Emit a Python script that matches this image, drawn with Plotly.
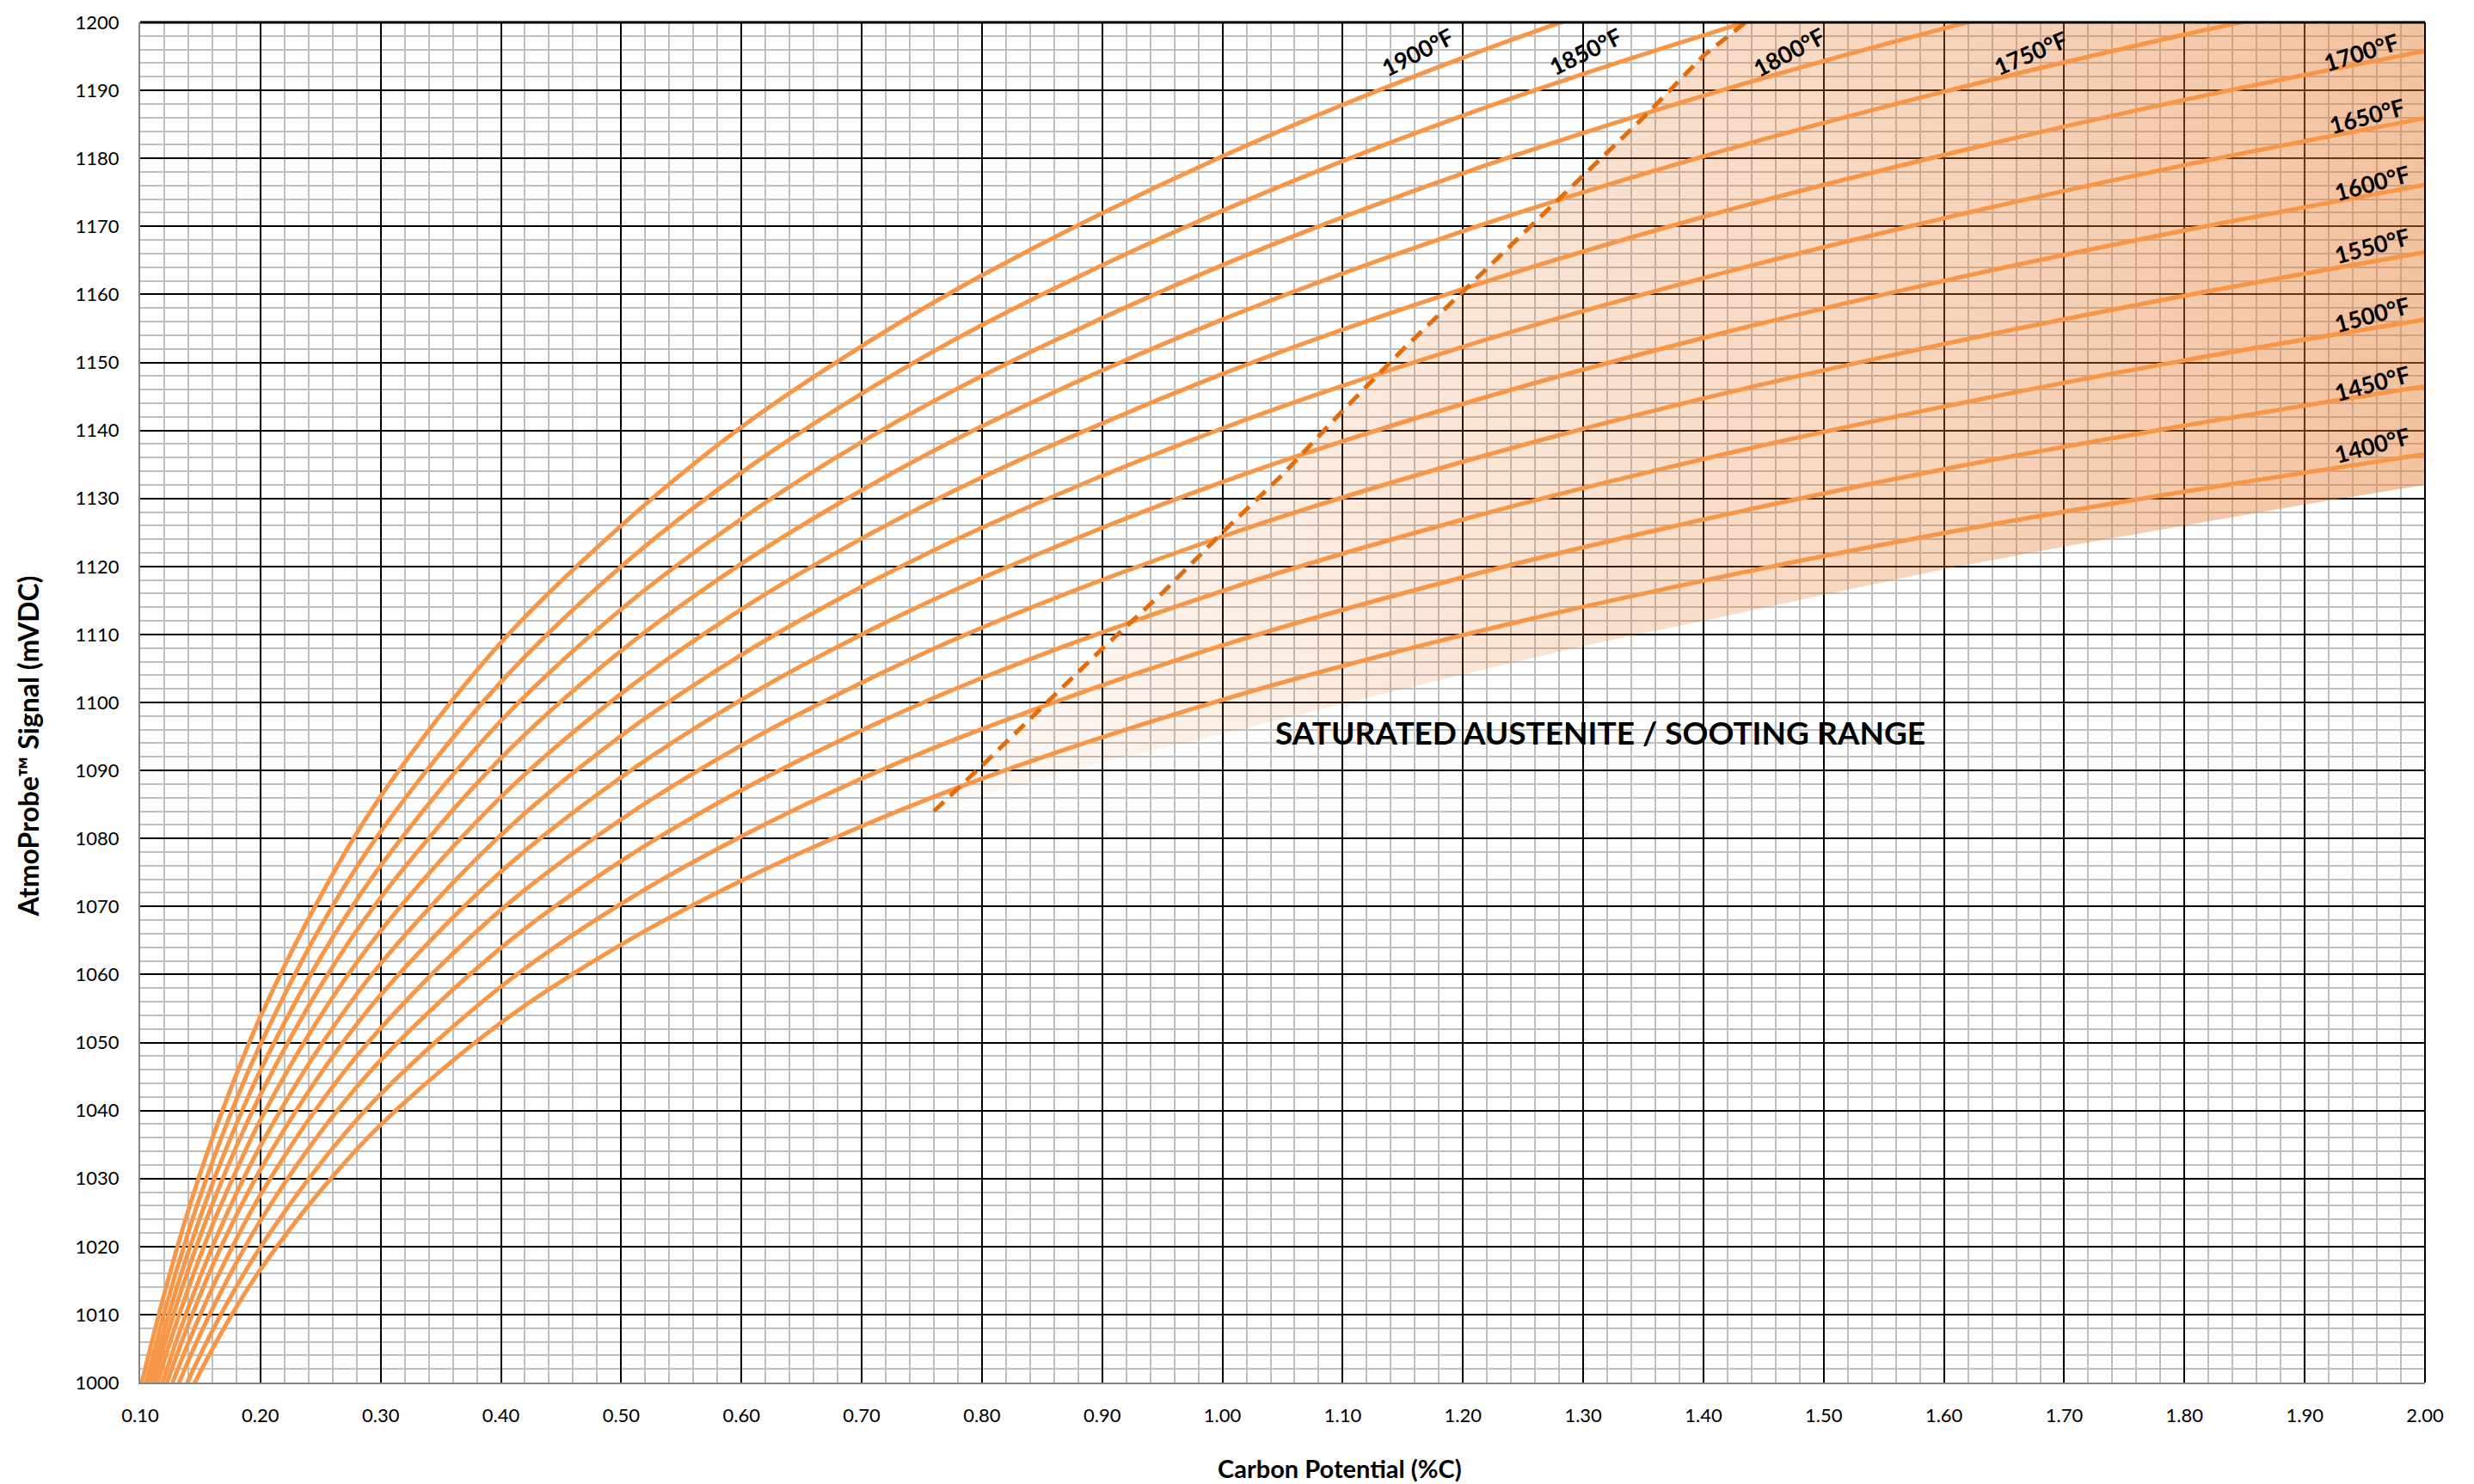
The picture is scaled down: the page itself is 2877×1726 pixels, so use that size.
import plotly.graph_objects as go

# ---------------- data ----------------
carbon = [0.10, 0.12, 0.14, 0.16, 0.18, 0.20, 0.25, 0.30, 0.40, 0.50,
          0.60, 0.70, 0.80, 1.00, 1.20, 1.40, 1.60, 1.80, 2.00]

temps = ["1400°F", "1450°F", "1500°F", "1550°F", "1600°F", "1650°F",
         "1700°F", "1750°F", "1800°F", "1850°F", "1900°F"]

mv_1400 = [980.4, 989.9, 998.0, 1004.9, 1011.1, 1016.6, 1028.2, 1037.9, 1052.9, 1064.4,
           1073.8, 1081.8, 1088.8, 1100.4, 1109.9, 1117.9, 1124.9, 1131.0, 1136.5]
mv_1450 = [981.8, 991.8, 1000.3, 1007.6, 1014.1, 1019.9, 1032.2, 1042.4, 1058.2, 1070.4,
           1080.3, 1088.8, 1096.1, 1108.4, 1118.4, 1126.9, 1134.3, 1140.7, 1146.5]
mv_1500 = [983.8, 994.3, 1003.2, 1010.8, 1017.6, 1023.8, 1036.8, 1047.4, 1063.9, 1076.7,
           1087.1, 1095.9, 1103.6, 1116.4, 1126.9, 1135.8, 1143.5, 1150.3, 1156.3]
mv_1550 = [985.6, 996.6, 1005.8, 1013.9, 1021.1, 1027.6, 1041.1, 1052.1, 1069.5, 1082.8,
           1093.7, 1102.9, 1111.0, 1124.4, 1135.4, 1144.7, 1152.7, 1159.8, 1166.2]
mv_1600 = [987.3, 998.8, 1008.5, 1017.1, 1024.6, 1031.3, 1045.4, 1057.0, 1075.1, 1089.0,
           1100.4, 1110.0, 1118.3, 1132.4, 1143.9, 1153.6, 1162.0, 1169.4, 1176.1]
mv_1650 = [988.8, 1000.8, 1011.0, 1019.9, 1027.8, 1034.8, 1049.5, 1061.6, 1080.5, 1095.1,
           1107.0, 1117.0, 1125.7, 1140.3, 1152.3, 1162.4, 1171.2, 1179.0, 1185.9]
mv_1700 = [990.6, 1003.2, 1013.8, 1023.1, 1031.2, 1038.6, 1053.9, 1066.4, 1086.1, 1101.3,
           1113.7, 1124.1, 1133.1, 1148.3, 1160.8, 1171.4, 1180.5, 1188.6, 1195.8]
mv_1750 = [992.4, 1005.5, 1016.6, 1026.2, 1034.7, 1042.3, 1058.3, 1071.3, 1091.8, 1107.6,
           1120.4, 1131.2, 1140.6, 1156.3, 1169.3, 1180.3, 1189.8, 1198.2, 1205.7]
mv_1800 = [994.2, 1007.7, 1019.2, 1029.2, 1038.0, 1045.9, 1062.5, 1076.0, 1097.3, 1113.7,
           1127.0, 1138.3, 1148.0, 1164.3, 1177.8, 1189.2, 1199.1, 1207.8, 1215.6]
mv_1850 = [996.2, 1010.2, 1022.1, 1032.4, 1041.6, 1049.7, 1067.0, 1081.0, 1103.0, 1120.0,
           1133.8, 1145.4, 1155.5, 1172.3, 1186.3, 1198.1, 1208.4, 1217.4, 1225.5]
mv_1900 = [999.0, 1013.0, 1025.3, 1035.9, 1045.3, 1053.8, 1071.5, 1086.2, 1108.8, 1126.0,
           1140.5, 1152.4, 1162.8, 1180.3, 1194.8, 1207.0, 1217.6, 1227.0, 1235.3]

curves = [mv_1400, mv_1450, mv_1500, mv_1550, mv_1600, mv_1650,
          mv_1700, mv_1750, mv_1800, mv_1850, mv_1900]

# saturation (Acm) dashed line
sat_c = [0.76, 0.80, 0.85, 0.90, 0.95, 1.00, 1.05, 1.10, 1.15, 1.20, 1.25, 1.30, 1.35, 1.40, 1.435]
sat_mv = [1084.0, 1090.7, 1099.3, 1107.9, 1116.1, 1125.0, 1133.5, 1142.9, 1151.9, 1160.4,
          1168.8, 1177.5, 1186.0, 1195.1, 1200.0]

# lower edge of the sooting range shading
low_c = [0.76, 0.80, 0.90, 1.00, 1.10, 1.20, 1.30, 1.40, 1.50, 1.60, 1.70, 1.80, 1.90, 2.00]
low_mv = [1084.0, 1086.4, 1091.2, 1095.4, 1099.8, 1104.1, 1108.3, 1112.0, 1115.8, 1119.6,
          1122.9, 1126.0, 1129.1, 1132.0]

# curve labels
label_c = [1.956, 1.956, 1.956, 1.956, 1.956, 1.952, 1.947, 1.672, 1.471, 1.302, 1.162]
label_mv = [1137.9, 1147.0, 1157.1, 1167.2, 1176.4, 1186.3, 1195.7, 1195.5, 1195.6, 1195.8, 1195.6]
label_angle = [-15, -15, -15, -15, -15, -15, -17, -23, -28, -26, -27]

X_MIN, X_MAX = 0.10, 2.00
Y_MIN, Y_MAX = 1000, 1200

CURVE = "#F79646"
DASH = "#E46C0A"
FONT = "Lato"

fig = go.Figure()

# shaded saturated austenite / sooting range
poly_x = sat_c + [X_MAX] + low_c[::-1]
poly_y = sat_mv + [Y_MAX] + low_mv[::-1]
fig.add_trace(go.Scatter(
    x=poly_x, y=poly_y, mode="none", fill="toself",
    fillgradient=dict(type="horizontal",
                      colorscale=[[0, "rgba(230,125,50,0.04)"], [1, "rgba(230,125,50,0.47)"]]),
    hoverinfo="skip", showlegend=False))

for name, mv in zip(temps, curves):
    fig.add_trace(go.Scatter(
        x=carbon, y=mv, mode="lines", name=name,
        line=dict(color=CURVE, width=5, shape="spline"),
        showlegend=False))

fig.add_trace(go.Scatter(
    x=sat_c, y=sat_mv, mode="lines", name="Saturation",
    line=dict(color=DASH, width=5, dash="16px,10px"),
    showlegend=False))

annotations = []
for name, cx, cy, ang in zip(temps, label_c, label_mv, label_angle):
    annotations.append(dict(
        x=cx, y=cy, xref="x", yref="y", text=name, showarrow=False,
        textangle=ang, font=dict(family=FONT, size=27, color="black", weight="bold"),
        xanchor="center", yanchor="middle"))

annotations.append(dict(
    x=1.314, y=1095.6, xref="x", yref="y",
    text="SATURATED AUSTENITE / SOOTING RANGE", showarrow=False,
    font=dict(family=FONT, size=37, color="black", weight="bold"),
    xanchor="center", yanchor="middle"))

annotations.append(dict(
    x=0.525, y=-0.063, xref="paper", yref="paper",
    text="Carbon Potential (%C)", showarrow=False,
    font=dict(family=FONT, size=29, color="black", weight="bold"),
    xanchor="center", yanchor="middle"))

annotations.append(dict(
    x=-0.049, y=0.468, xref="paper", yref="paper",
    text="AtmoProbe™ Signal (mVDC)", showarrow=False, textangle=-90,
    font=dict(family=FONT, size=32, color="black", weight="bold"),
    xanchor="center", yanchor="middle"))

fig.update_layout(
    width=2877, height=1726,
    margin=dict(l=163, r=57, t=21, b=118),
    paper_bgcolor="white", plot_bgcolor="white",
    font=dict(family=FONT, color="black"),
    annotations=annotations,
    shapes=[
        dict(type="line", xref="paper", yref="paper", x0=0, x1=1, y0=1, y1=1,
             line=dict(color="black", width=3), layer="above"),
        dict(type="line", xref="paper", yref="paper", x0=1, x1=1, y0=0, y1=1,
             line=dict(color="black", width=2), layer="above"),
    ],
)

fig.update_xaxes(
    range=[X_MIN, X_MAX], tick0=0.1, dtick=0.1, tickformat=".2f",
    showgrid=True, gridcolor="black", gridwidth=2,
    minor=dict(tick0=0.1, dtick=0.02, showgrid=True, gridcolor="#BFBFBF", gridwidth=2),
    showline=True, linecolor="#868686", linewidth=2, zeroline=False,
    ticks="", ticklabelstandoff=18,
    tickfont=dict(family=FONT, size=22, color="black"))

fig.update_yaxes(
    range=[Y_MIN, Y_MAX], tick0=1000, dtick=10,
    showgrid=True, gridcolor="black", gridwidth=2,
    minor=dict(tick0=1000, dtick=2, showgrid=True, gridcolor="#BFBFBF", gridwidth=2),
    showline=True, linecolor="#868686", linewidth=2, zeroline=False,
    ticks="", ticklabelstandoff=18,
    tickfont=dict(family=FONT, size=22, color="black"))

fig.write_html("out.html",
               config={"displayModeBar": False},
               post_script="document.body.style.margin='0';document.body.style.overflow='hidden';")
